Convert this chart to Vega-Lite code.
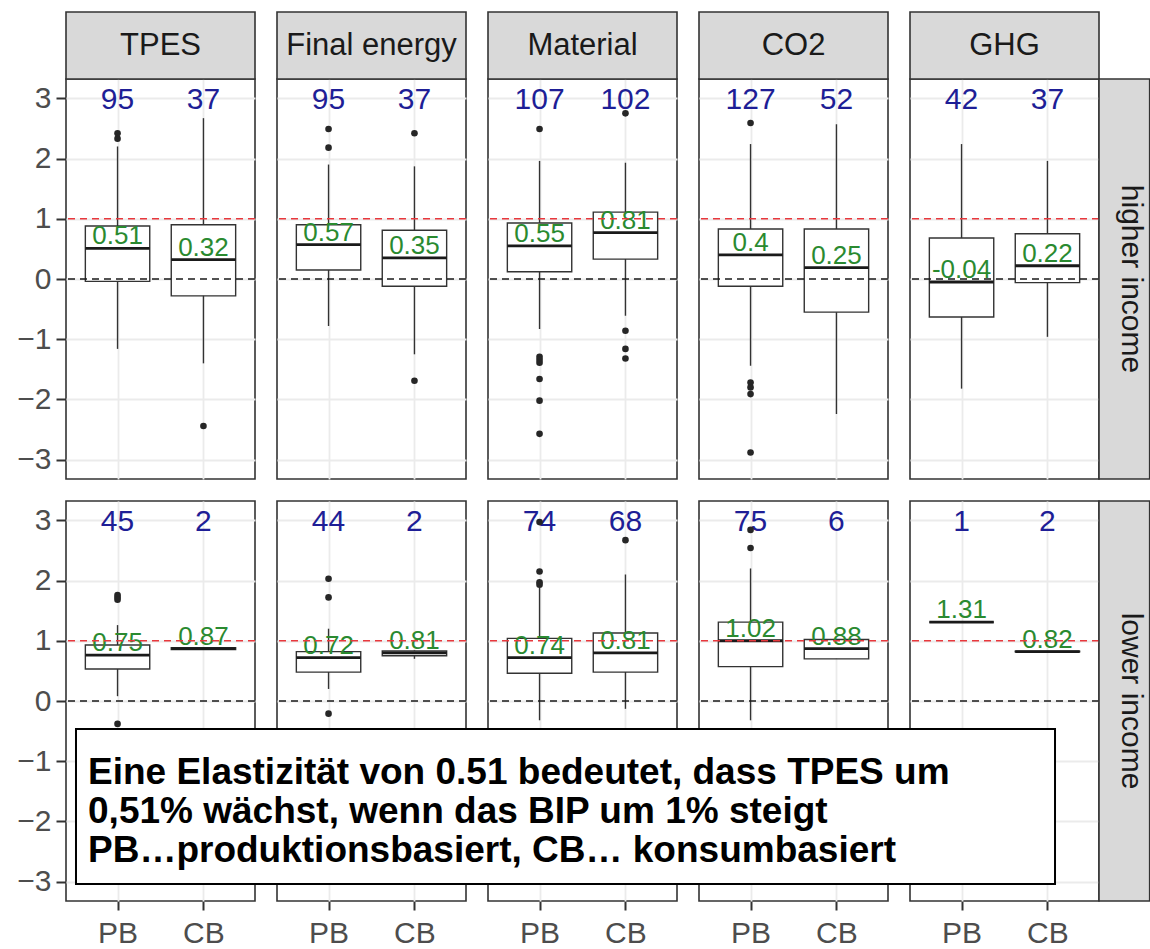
{
  "$schema": "https://vega.github.io/schema/vega-lite/v6.json",
  "padding": {"left": 16, "top": 10, "right": 0, "bottom": 5},
  "background": "white",
  "config": {
    "font": "Liberation Sans",
    "view": {"stroke": "#333333", "strokeWidth": 1.6, "fill": "white"},
    "axis": {"labelFont": "Liberation Sans"}
  },
  "data": {"values": [
    {"kind": "box", "measure": "TPES", "income": "higher income", "basis": "PB", "n": 95, "lower": -1.16, "q1": -0.04, "median": 0.51, "q3": 0.88, "upper": 2.2, "label": "0.51"},
    {"kind": "box", "measure": "TPES", "income": "higher income", "basis": "CB", "n": 37, "lower": -1.4, "q1": -0.28, "median": 0.32, "q3": 0.9, "upper": 2.67, "label": "0.32"},
    {"kind": "box", "measure": "Final energy", "income": "higher income", "basis": "PB", "n": 95, "lower": -0.78, "q1": 0.15, "median": 0.57, "q3": 0.9, "upper": 1.9, "label": "0.57"},
    {"kind": "box", "measure": "Final energy", "income": "higher income", "basis": "CB", "n": 37, "lower": -1.25, "q1": -0.12, "median": 0.35, "q3": 0.81, "upper": 1.87, "label": "0.35"},
    {"kind": "box", "measure": "Material", "income": "higher income", "basis": "PB", "n": 107, "lower": -0.83, "q1": 0.12, "median": 0.55, "q3": 0.93, "upper": 1.96, "label": "0.55"},
    {"kind": "box", "measure": "Material", "income": "higher income", "basis": "CB", "n": 102, "lower": -0.61, "q1": 0.33, "median": 0.77, "q3": 1.11, "upper": 1.93, "label": "0.81"},
    {"kind": "box", "measure": "CO2", "income": "higher income", "basis": "PB", "n": 127, "lower": -1.44, "q1": -0.12, "median": 0.4, "q3": 0.83, "upper": 2.24, "label": "0.4"},
    {"kind": "box", "measure": "CO2", "income": "higher income", "basis": "CB", "n": 52, "lower": -2.24, "q1": -0.55, "median": 0.19, "q3": 0.83, "upper": 2.57, "label": "0.25"},
    {"kind": "box", "measure": "GHG", "income": "higher income", "basis": "PB", "n": 42, "lower": -1.82, "q1": -0.63, "median": -0.05, "q3": 0.68, "upper": 2.24, "label": "-0.04"},
    {"kind": "box", "measure": "GHG", "income": "higher income", "basis": "CB", "n": 37, "lower": -0.96, "q1": -0.06, "median": 0.22, "q3": 0.75, "upper": 1.96, "label": "0.22"},
    {"kind": "box", "measure": "TPES", "income": "lower income", "basis": "PB", "n": 45, "lower": 0.08, "q1": 0.53, "median": 0.76, "q3": 0.93, "upper": 1.26, "label": "0.75"},
    {"kind": "box", "measure": "TPES", "income": "lower income", "basis": "CB", "n": 2, "lower": 0.85, "q1": 0.855, "median": 0.87, "q3": 0.885, "upper": 0.89, "label": "0.87"},
    {"kind": "box", "measure": "Final energy", "income": "lower income", "basis": "PB", "n": 44, "lower": 0.2, "q1": 0.48, "median": 0.72, "q3": 0.82, "upper": 1.2, "label": "0.72"},
    {"kind": "box", "measure": "Final energy", "income": "lower income", "basis": "CB", "n": 2, "lower": 0.7, "q1": 0.75, "median": 0.8, "q3": 0.83, "upper": 0.84, "label": "0.81"},
    {"kind": "box", "measure": "Material", "income": "lower income", "basis": "PB", "n": 74, "lower": -0.32, "q1": 0.46, "median": 0.72, "q3": 1.04, "upper": 1.88, "label": "0.74"},
    {"kind": "box", "measure": "Material", "income": "lower income", "basis": "CB", "n": 68, "lower": -0.13, "q1": 0.48, "median": 0.8, "q3": 1.13, "upper": 2.1, "label": "0.81"},
    {"kind": "box", "measure": "CO2", "income": "lower income", "basis": "PB", "n": 75, "lower": -0.32, "q1": 0.57, "median": 1.0, "q3": 1.31, "upper": 2.2, "label": "1.02"},
    {"kind": "box", "measure": "CO2", "income": "lower income", "basis": "CB", "n": 6, "lower": 0.7, "q1": 0.7, "median": 0.87, "q3": 1.02, "upper": 1.02, "label": "0.88"},
    {"kind": "box", "measure": "GHG", "income": "lower income", "basis": "PB", "n": 1, "lower": 1.31, "q1": 1.31, "median": 1.31, "q3": 1.31, "upper": 1.31, "label": "1.31"},
    {"kind": "box", "measure": "GHG", "income": "lower income", "basis": "CB", "n": 2, "lower": 0.81, "q1": 0.815, "median": 0.82, "q3": 0.825, "upper": 0.83, "label": "0.82"},
    {"kind": "out", "measure": "TPES", "income": "higher income", "basis": "PB", "value": 2.42},
    {"kind": "out", "measure": "TPES", "income": "higher income", "basis": "PB", "value": 2.33},
    {"kind": "out", "measure": "TPES", "income": "higher income", "basis": "CB", "value": -2.44},
    {"kind": "out", "measure": "Final energy", "income": "higher income", "basis": "PB", "value": 2.49},
    {"kind": "out", "measure": "Final energy", "income": "higher income", "basis": "PB", "value": 2.18},
    {"kind": "out", "measure": "Final energy", "income": "higher income", "basis": "CB", "value": 2.42},
    {"kind": "out", "measure": "Final energy", "income": "higher income", "basis": "CB", "value": -1.69},
    {"kind": "out", "measure": "Material", "income": "higher income", "basis": "PB", "value": 2.49},
    {"kind": "out", "measure": "Material", "income": "higher income", "basis": "PB", "value": -1.29},
    {"kind": "out", "measure": "Material", "income": "higher income", "basis": "PB", "value": -1.34},
    {"kind": "out", "measure": "Material", "income": "higher income", "basis": "PB", "value": -1.39},
    {"kind": "out", "measure": "Material", "income": "higher income", "basis": "PB", "value": -1.66},
    {"kind": "out", "measure": "Material", "income": "higher income", "basis": "PB", "value": -2.02},
    {"kind": "out", "measure": "Material", "income": "higher income", "basis": "PB", "value": -2.57},
    {"kind": "out", "measure": "Material", "income": "higher income", "basis": "CB", "value": 2.75},
    {"kind": "out", "measure": "Material", "income": "higher income", "basis": "CB", "value": -0.86},
    {"kind": "out", "measure": "Material", "income": "higher income", "basis": "CB", "value": -1.16},
    {"kind": "out", "measure": "Material", "income": "higher income", "basis": "CB", "value": -1.32},
    {"kind": "out", "measure": "CO2", "income": "higher income", "basis": "PB", "value": 2.59},
    {"kind": "out", "measure": "CO2", "income": "higher income", "basis": "PB", "value": -1.72},
    {"kind": "out", "measure": "CO2", "income": "higher income", "basis": "PB", "value": -1.8},
    {"kind": "out", "measure": "CO2", "income": "higher income", "basis": "PB", "value": -1.91},
    {"kind": "out", "measure": "CO2", "income": "higher income", "basis": "PB", "value": -2.88},
    {"kind": "out", "measure": "TPES", "income": "lower income", "basis": "PB", "value": 1.76},
    {"kind": "out", "measure": "TPES", "income": "lower income", "basis": "PB", "value": 1.72},
    {"kind": "out", "measure": "TPES", "income": "lower income", "basis": "PB", "value": 1.68},
    {"kind": "out", "measure": "TPES", "income": "lower income", "basis": "PB", "value": -0.38},
    {"kind": "out", "measure": "Final energy", "income": "lower income", "basis": "PB", "value": 2.03},
    {"kind": "out", "measure": "Final energy", "income": "lower income", "basis": "PB", "value": 1.72},
    {"kind": "out", "measure": "Final energy", "income": "lower income", "basis": "PB", "value": -0.21},
    {"kind": "out", "measure": "Material", "income": "lower income", "basis": "PB", "value": 2.97},
    {"kind": "out", "measure": "Material", "income": "lower income", "basis": "PB", "value": 2.15},
    {"kind": "out", "measure": "Material", "income": "lower income", "basis": "PB", "value": 1.97},
    {"kind": "out", "measure": "Material", "income": "lower income", "basis": "PB", "value": 1.93},
    {"kind": "out", "measure": "Material", "income": "lower income", "basis": "CB", "value": 2.67},
    {"kind": "out", "measure": "CO2", "income": "lower income", "basis": "PB", "value": 2.84},
    {"kind": "out", "measure": "CO2", "income": "lower income", "basis": "PB", "value": 2.54}
  ]},
  "transform": [
    {"lookup": "basis", "from": {"data": {"values": [{"basis": "PB", "slot": 1}, {"basis": "CB", "slot": 2}]}, "key": "basis", "fields": ["slot"]}}
  ],
  "spacing": {"row": 22, "column": 22},
  "bounds": "flush",
  "facet": {
    "row": {"field": "income", "type": "nominal", "sort": ["higher income", "lower income"], "title": null, "header": {"labels": false, "title": null}},
    "column": {"field": "measure", "type": "nominal", "sort": ["TPES", "Final energy", "Material", "CO2", "GHG"], "title": null, "header": {"labels": false, "title": null}}
  },
  "spec": {
    "width": 189,
    "height": 400,
    "layer": [
      {
        "transform": [{"filter": "datum.kind === 'box'"}],
        "mark": {"type": "text", "fontSize": 30, "color": "#1e1e96", "baseline": "middle", "dy": 2},
        "encoding": {
          "x": {"field": "slot", "type": "quantitative", "scale": {"domain": [0.4, 2.6], "nice": false, "zero": false, "padding": 0},
            "axis": {"title": null, "values": [1, 2], "labelExpr": "datum.value === 1 ? 'PB' : 'CB'", "grid": true, "gridColor": "#ebebeb", "gridWidth": 1.8, "domain": false, "tickColor": "#333333", "tickWidth": 2, "tickSize": 9, "labelFontSize": 30, "labelColor": "#4d4d4d", "labelPadding": 8, "labelFlush": false, "labelAngle": 0}},
          "y": {"datum": 3, "type": "quantitative", "scale": {"domain": [-3.32, 3.32], "nice": false, "zero": false, "padding": 0},
            "axis": {"title": null, "values": [-3, -2.5, -2, -1.5, -1, -0.5, 0, 0.5, 1, 1.5, 2, 2.5, 3], "format": ".0f",
              "labelExpr": "datum.value % 1 === 0 ? datum.label : ''", "labelOverlap": false,
              "grid": true, "gridColor": "#ebebeb",
              "gridWidth": {"condition": {"test": "datum.value % 1 !== 0", "value": 1}, "value": 1.8},
              "tickOpacity": {"condition": {"test": "datum.value % 1 !== 0", "value": 0}, "value": 1},
              "domain": false, "tickColor": "#333333", "tickWidth": 2, "tickSize": 10,
              "labelFontSize": 30, "labelColor": "#4d4d4d", "labelPadding": 5}},
          "text": {"field": "n", "type": "quantitative"}
        }
      },
      {
        "transform": [{"filter": "datum.kind === 'box'"}],
        "mark": {"type": "rule", "color": "#333333", "strokeWidth": 1.4},
        "encoding": {
          "x": {"field": "slot", "type": "quantitative"},
          "y": {"field": "lower", "type": "quantitative", "title": null},
          "y2": {"field": "upper"}
        }
      },
      {
        "transform": [{"filter": "datum.kind === 'box'"}],
        "mark": {"type": "bar", "width": 64.4, "fill": "white", "stroke": "#333333", "strokeWidth": 1.4},
        "encoding": {
          "x": {"field": "slot", "type": "quantitative"},
          "y": {"field": "q1", "type": "quantitative", "title": null},
          "y2": {"field": "q3"}
        }
      },
      {
        "transform": [{"filter": "datum.kind === 'box'"}],
        "mark": {"type": "bar", "width": 64.4, "fill": "transparent", "stroke": "#1a1a1a", "strokeWidth": 2.8},
        "encoding": {
          "x": {"field": "slot", "type": "quantitative"},
          "y": {"field": "median", "type": "quantitative", "title": null},
          "y2": {"field": "median"}
        }
      },
      {
        "transform": [{"filter": "datum.kind === 'out'"}],
        "mark": {"type": "circle", "color": "#262626", "size": 44, "opacity": 1},
        "encoding": {
          "x": {"field": "slot", "type": "quantitative"},
          "y": {"field": "value", "type": "quantitative", "title": null}
        }
      },
      {
        "transform": [{"filter": "datum.kind === 'box'"}],
        "mark": {"type": "text", "fontSize": 26, "color": "#2a8a30", "baseline": "alphabetic", "dy": -4},
        "encoding": {
          "x": {"field": "slot", "type": "quantitative"},
          "y": {"field": "median", "type": "quantitative", "title": null},
          "text": {"field": "label", "type": "nominal"}
        }
      },
      {
        "transform": [{"filter": "datum.kind === 'box' && datum.basis === 'PB'"}],
        "mark": {"type": "rule", "color": "#e8383d", "strokeWidth": 1.5, "strokeDash": [7, 5]},
        "encoding": {"y": {"datum": 1, "type": "quantitative"}}
      },
      {
        "transform": [{"filter": "datum.kind === 'box' && datum.basis === 'PB'"}],
        "mark": {"type": "rule", "color": "#1a1a1a", "strokeWidth": 1.5, "strokeDash": [7, 5]},
        "encoding": {"y": {"datum": 0, "type": "quantitative"}}
      },
      {
        "transform": [{"filter": "datum.kind === 'box' && datum.basis === 'PB' && datum.income === 'higher income'"}],
        "mark": {"type": "rect", "fill": "#d9d9d9", "stroke": "#333333", "strokeWidth": 1.6},
        "encoding": {
          "x": {"datum": 0.4, "type": "quantitative"},
          "x2": {"datum": 2.6},
          "y": {"datum": 3.32, "type": "quantitative"},
          "y2": {"datum": 4.432}
        }
      },
      {
        "transform": [{"filter": "datum.kind === 'box' && datum.basis === 'PB' && datum.income === 'higher income'"}],
        "mark": {"type": "text", "fontSize": 31, "color": "#1a1a1a", "baseline": "middle", "align": "center"},
        "encoding": {
          "x": {"datum": 1.5, "type": "quantitative"},
          "y": {"datum": 3.876, "type": "quantitative"},
          "text": {"field": "measure", "type": "nominal"}
        }
      },
      {
        "transform": [{"filter": "datum.kind === 'box' && datum.basis === 'PB' && datum.measure === 'GHG'"}],
        "mark": {"type": "rect", "fill": "#d9d9d9", "stroke": "#333333", "strokeWidth": 1.6},
        "encoding": {
          "x": {"datum": 2.6, "type": "quantitative"},
          "x2": {"datum": 3.19},
          "y": {"datum": -3.32, "type": "quantitative"},
          "y2": {"datum": 3.32}
        }
      },
      {
        "transform": [{"filter": "datum.kind === 'box' && datum.basis === 'PB' && datum.measure === 'GHG'"}],
        "mark": {"type": "text", "fontSize": 30, "color": "#1a1a1a", "baseline": "middle", "align": "center", "angle": 90},
        "encoding": {
          "x": {"datum": 2.97, "type": "quantitative"},
          "y": {"datum": 0, "type": "quantitative"},
          "text": {"field": "income", "type": "nominal"}
        }
      },
      {
        "transform": [{"filter": "datum.kind === 'box' && datum.basis === 'PB' && datum.measure === 'GHG' && datum.income === 'lower income'"}],
        "mark": {"type": "rect", "fill": "white", "stroke": "black", "strokeWidth": 2},
        "encoding": {
          "x": {"datum": -9.308, "type": "quantitative"},
          "x2": {"datum": 2.088},
          "y": {"datum": -0.465, "type": "quantitative"},
          "y2": {"datum": -3.038}
        }
      },
      {
        "transform": [{"filter": "datum.kind === 'box' && datum.basis === 'PB' && datum.measure === 'GHG' && datum.income === 'lower income'"}],
        "mark": {"type": "text", "fontSize": 37, "fontWeight": "bold", "color": "black", "align": "left", "baseline": "alphabetic", "lineHeight": 39},
        "encoding": {
          "x": {"datum": -9.168, "type": "quantitative"},
          "y": {"datum": -1.378, "type": "quantitative"},
          "text": {"value": ["Eine Elastizität von 0.51 bedeutet, dass TPES um", "0,51% wächst, wenn das BIP um 1% steigt", "PB…produktionsbasiert, CB… konsumbasiert"]}
        }
      }
    ]
  }
}
